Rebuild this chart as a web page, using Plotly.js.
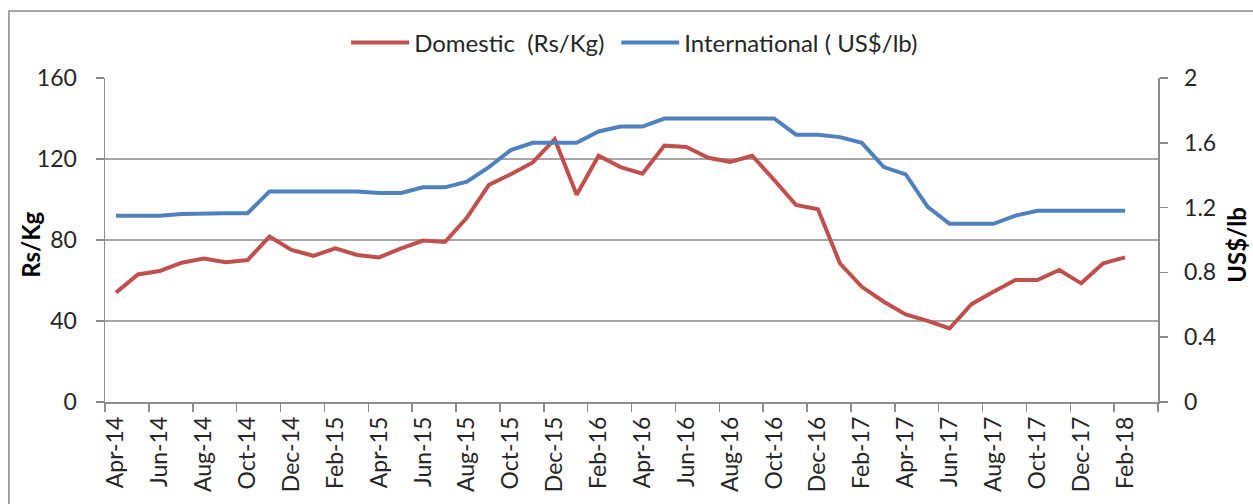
<!DOCTYPE html>
<html><head><meta charset="utf-8">
<script src="https://cdn.plot.ly/plotly-3.0.1.min.js"></script>
<style>html,body{margin:0;padding:0;background:#fff}#chart{width:1253px;height:504px}</style>
</head><body><div id="chart"></div>
<script>
const months = ["Apr-14","May-14","Jun-14","Jul-14","Aug-14","Sep-14","Oct-14","Nov-14","Dec-14","Jan-15","Feb-15","Mar-15",
  "Apr-15","May-15","Jun-15","Jul-15","Aug-15","Sep-15","Oct-15","Nov-15","Dec-15","Jan-16","Feb-16","Mar-16",
  "Apr-16","May-16","Jun-16","Jul-16","Aug-16","Sep-16","Oct-16","Nov-16","Dec-16","Jan-17","Feb-17","Mar-17",
  "Apr-17","May-17","Jun-17","Jul-17","Aug-17","Sep-17","Oct-17","Nov-17","Dec-17","Jan-18","Feb-18"];
const domestic = [54,63,64.7,68.8,70.9,69,70.1,81.7,75.1,72.2,75.9,72.6,
  71.4,75.9,79.7,79,91.1,107.2,112.5,118.3,129.8,102.3,121.6,116,
  112.7,126.6,125.9,120.6,118.6,121.6,109.7,97.3,95.2,68.5,56.9,49.5,
  43.2,40.1,36.3,48.3,54.4,60.2,60.2,65.2,58.6,68.5,71.4];
const international = [1.15,1.15,1.15,1.16,1.165,1.165,1.165,1.30,1.30,1.30,1.30,1.30,
  1.29,1.29,1.325,1.325,1.36,1.45,1.555,1.60,1.60,1.60,1.67,1.70,
  1.70,1.75,1.75,1.75,1.75,1.75,1.75,1.65,1.65,1.635,1.60,1.45,
  1.405,1.205,1.10,1.10,1.10,1.15,1.18,1.18,1.18,1.18,1.18];
const leftTicks = [0,40,80,120,160];
const rightTicks = [0,0.4,0.8,1.2,1.6,2];
const leftTitle = "Rs/Kg";
const rightTitle = "US$/lb";

const FONT = "Lato, 'Open Sans', sans-serif";
const TXT = "#262626";
const AX = "#8c8c8c";

const traces = [
  {x: months, y: domestic, name: "Domestic  (Rs/Kg)", type: "scatter", mode: "lines",
   line: {color: "#C0504D", width: 4}, yaxis: "y", legend: "legend"},
  {x: months, y: international, name: "International ( US$/lb)", type: "scatter", mode: "lines",
   line: {color: "#4F81BD", width: 4}, yaxis: "y2", legend: "legend2"}
];

const titleFont = {family: FONT, size: 24, color: "#000", weight: "bold"};
const legendBase = {orientation: "h", xanchor: "left", y: 1.108, yanchor: "middle",
  font: {family: FONT, size: 24, color: TXT}, itemwidth: 58, bgcolor: "rgba(0,0,0,0)"};

const layout = {
  width: 1253, height: 504,
  margin: {l: 105, r: 95, t: 78, b: 102},
  paper_bgcolor: "#fff", plot_bgcolor: "#fff",
  font: {family: FONT, size: 23, color: TXT},
  showlegend: true,
  legend: Object.assign({}, legendBase, {x: 0.229}),
  legend2: Object.assign({}, legendBase, {x: 0.4855}),
  xaxis: {type: "category", range: [-0.5, 47.5], tickmode: "linear", tick0: 0, dtick: 2,
          tickson: "boundaries", ticks: "outside", ticklen: 8, tickcolor: AX, tickwidth: 1.5,
          tickangle: -90, showgrid: false, showline: true, linecolor: AX, linewidth: 1.5,
          zeroline: false, tickfont: {family: FONT, size: 23, color: TXT}, ticklabelstandoff: 4,
          fixedrange: true},
  yaxis: {range: [0, 160], tickvals: leftTicks, ticks: "outside", ticklen: 8, tickcolor: AX, tickwidth: 1.5,
          showline: true, linecolor: AX, linewidth: 1.5, showgrid: true, gridcolor: "#a6a6a6", gridwidth: 1.3,
          zeroline: false, tickfont: {family: FONT, size: 23, color: TXT}, ticklabelstandoff: 14},
  yaxis2: {range: [0, 2], tickvals: rightTicks, overlaying: "y", side: "right", ticks: "outside", ticklen: 8,
           tickcolor: AX, tickwidth: 1.5, showline: true, linecolor: AX, linewidth: 1.5, showgrid: false,
           zeroline: false, tickfont: {family: FONT, size: 23, color: TXT}, ticklabelstandoff: 12},
  annotations: [
    {text: leftTitle, xref: "paper", yref: "paper", x: -0.0703, y: 0.485, xanchor: "center", yanchor: "middle",
     textangle: -90, showarrow: false, font: titleFont},
    {text: rightTitle, xref: "paper", yref: "paper", x: 1.075, y: 0.485, xanchor: "center", yanchor: "middle",
     textangle: -90, showarrow: false, font: titleFont}
  ],
  shapes: [{type: "rect", xref: "paper", yref: "paper", x0: -0.0912, x1: 1.2, y0: -0.4, y1: 1.2068,
            line: {color: "#8a8a8a", width: 1.5}, fillcolor: "rgba(0,0,0,0)", layer: "below"}]
};

Plotly.newPlot("chart", traces, layout, {staticPlot: true, displayModeBar: false});
</script></body></html>
